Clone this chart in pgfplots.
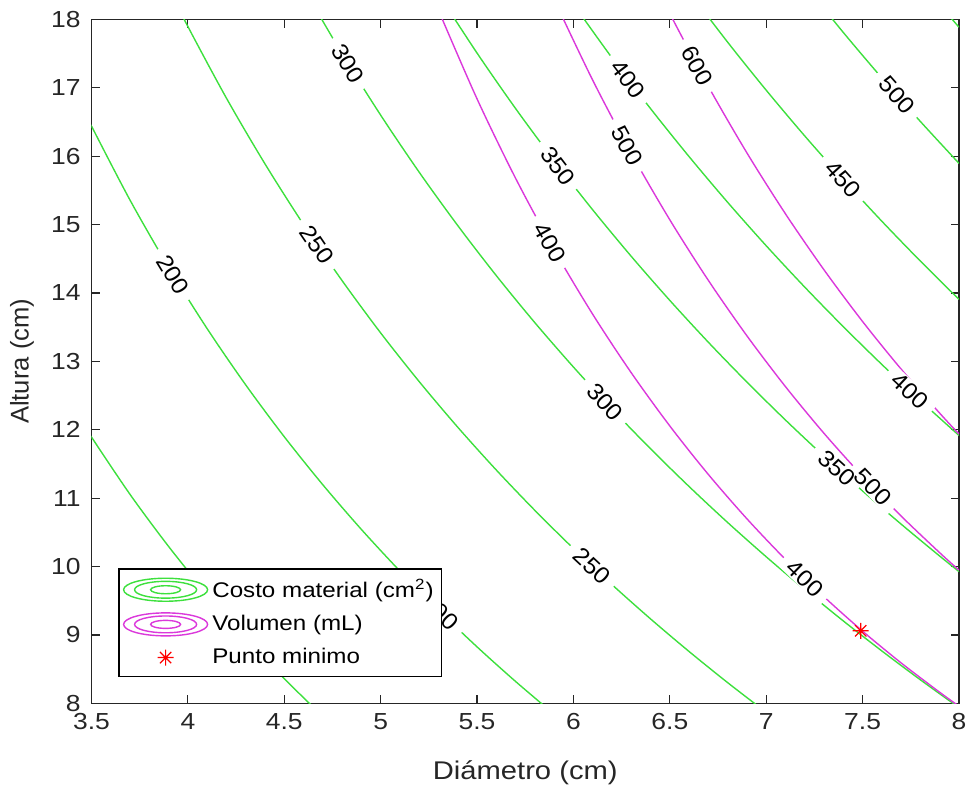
\documentclass[border=0pt]{standalone}
\usepackage{fontspec}
\setmainfont{Liberation Sans}[FakeStretch=1.14]
\newfontfamily\plainfont{Liberation Sans}
\newfontfamily\midfont{Liberation Sans}[FakeStretch=1.07]
\usepackage{pgfplots}
\pgfplotsset{compat=1.18}
\definecolor{cgrn}{rgb}{0.24,0.88,0.24}
\definecolor{cmag}{rgb}{0.86,0.22,0.86}
\definecolor{axgray}{rgb}{0.15,0.15,0.15}
\pgfdeclareplotmark{mstar}{%
 \pgfpathmoveto{\pgfqpoint{-\pgfplotmarksize}{0pt}}\pgfpathlineto{\pgfqpoint{\pgfplotmarksize}{0pt}}%
 \pgfpathmoveto{\pgfqpoint{0pt}{-\pgfplotmarksize}}\pgfpathlineto{\pgfqpoint{0pt}{\pgfplotmarksize}}%
 \pgfpathmoveto{\pgfqpoint{-0.707\pgfplotmarksize}{-0.707\pgfplotmarksize}}\pgfpathlineto{\pgfqpoint{0.707\pgfplotmarksize}{0.707\pgfplotmarksize}}%
 \pgfpathmoveto{\pgfqpoint{-0.707\pgfplotmarksize}{0.707\pgfplotmarksize}}\pgfpathlineto{\pgfqpoint{0.707\pgfplotmarksize}{-0.707\pgfplotmarksize}}%
 \pgfusepathqstroke}
\newcommand{\labfont}{\midfont\fontsize{11.6}{14}\selectfont}
\newcommand{\labbg}[4]{\node[fill=white, inner xsep=4.4pt, inner ysep=0.5pt, rotate=#3, font=\labfont] at (axis cs:#1,#2) {\phantom{#4}};}
\newcommand{\labtxt}[4]{\node[inner sep=0pt, rotate=#3, text=black, font=\labfont] at (axis cs:#1,#2) {#4};}
\newcommand{\alllabels}[1]{%
 #1{3.923}{14.266}{-58.7}{200}%
 #1{5.31}{9.34}{-44.5}{200}%
 #1{4.670}{14.705}{-55.8}{250}%
 #1{6.096}{10.006}{-43.1}{250}%
 #1{4.831}{17.351}{-58.45}{300}%
 #1{6.164}{12.410}{-46.9}{300}%
 #1{5.920}{15.859}{-52.5}{350}%
 #1{7.367}{11.439}{-42.2}{350}%
 #1{6.283}{17.123}{-52.9}{400}%
 #1{7.746}{12.564}{-42.9}{400}%
 #1{7.398}{15.663}{-47.9}{450}%
 #1{7.678}{16.890}{-48.6}{500}%
 #1{5.878}{14.741}{-60.7}{400}%
 #1{7.200}{9.824}{-44.1}{400}%
 #1{6.278}{16.154}{-61.3}{500}%
 #1{7.554}{11.157}{-46.3}{500}%
 #1{6.641}{17.32}{-61.6}{600}%
}
\begin{document}
\begin{tikzpicture}[font=\fontsize{11.6}{14}\selectfont]
\begin{axis}[
  scale only axis, width=433.75pt, height=342pt,
  xmin=3.5, xmax=8, ymin=8, ymax=18,
  xtick={3.5,4,4.5,5,5.5,6,6.5,7,7.5,8},
  ytick={8,9,10,11,12,13,14,15,16,17,18},
  tick align=inside, major tick length=4.2pt,
  axis line style={axgray, line width=0.6pt},
  every tick/.style={axgray, line width=0.6pt},
  tick label style={text=axgray},
  yticklabel style={xshift=-1.9pt},
  xticklabel style={yshift=-1.5pt},
  /pgf/number format/assume math mode=true,
  xlabel={Diámetro (cm)}, ylabel={Altura (cm)},
  xlabel style={at={(axis description cs:0.5,-0.1121)}, anchor=base, text=axgray,
    font=\fontsize{12.8}{15}\selectfont},
  ylabel style={at={(axis description cs:-0.0801,0.5)}, anchor=center, text=axgray,
    font=\plainfont\fontsize{12.8}{15}\selectfont},
  legend style={at={(0.0309,0.038)}, anchor=south west, draw=black, line width=0.6pt,
    fill=white, inner xsep=2pt, inner ysep=3pt, row sep=3.4pt, text=black,
    font=\fontsize{10.6}{12.4}\selectfont},
  legend cell align=left,
]
\coordinate (ll) at (rel axis cs:0,0);
\coordinate (ur) at (rel axis cs:1,1);
% Costo material (green)
\addplot[cgrn, line width=0.7pt, smooth, forget plot] coordinates {(3.45,12.114)(3.5,11.892)(3.7,11.054)(3.9,10.293)(4.1,9.595)(4.3,8.954)(4.5,8.360)(4.7,7.809)};
\addplot[cgrn, line width=0.7pt, smooth, forget plot] coordinates {(3.45,16.728)(3.5,16.439)(3.7,15.356)(3.9,14.374)(4.1,13.477)(4.3,12.655)(4.5,11.897)(4.7,11.195)(4.9,10.542)(5.1,9.933)(5.3,9.362)(5.5,8.825)(5.7,8.319)(5.9,7.840)};
\addplot[cgrn, line width=0.7pt, smooth, forget plot] coordinates {(3.9,18.454)(4.0,17.894)(4.2,16.847)(4.4,15.886)(4.6,14.999)(4.8,14.179)(5.0,13.415)(5.2,12.703)(5.4,12.036)(5.6,11.410)(5.8,10.820)(6.0,10.263)(6.2,9.735)(6.4,9.234)(6.6,8.757)(6.8,8.302)(7.0,7.868)};
\addplot[cgrn, line width=0.7pt, smooth, forget plot] coordinates {(4.6,18.459)(4.8,17.494)(5.0,16.599)(5.2,15.764)(5.4,14.984)(5.6,14.252)(5.8,13.564)(6.0,12.916)(6.2,12.302)(6.4,11.721)(6.6,11.169)(6.8,10.643)(7.0,10.142)(7.2,9.663)(7.4,9.204)(7.6,8.765)(7.8,8.343)(8.0,7.937)};
\addplot[cgrn, line width=0.7pt, smooth, forget plot] coordinates {(5.3,18.370)(5.5,17.506)(5.7,16.695)(5.9,15.933)(6.1,15.214)(6.3,14.534)(6.5,13.890)(6.7,13.278)(6.9,12.696)(7.1,12.141)(7.3,11.611)(7.5,11.104)(7.7,10.619)(7.9,10.152)(8.0,9.926)};
\addplot[cgrn, line width=0.7pt, smooth, forget plot] coordinates {(6.0,18.221)(6.2,17.436)(6.4,16.694)(6.6,15.992)(6.8,15.324)(7.0,14.689)(7.2,14.084)(7.4,13.506)(7.6,12.953)(7.8,12.424)(8.0,11.916)};
\addplot[cgrn, line width=0.7pt, smooth, forget plot] coordinates {(6.6,18.403)(6.8,17.665)(7.0,16.963)(7.2,16.294)(7.4,15.657)(7.6,15.047)(7.8,14.464)(8.0,13.905)};
\addplot[cgrn, line width=0.7pt, smooth, forget plot] coordinates {(7.2,18.505)(7.4,17.807)(7.6,17.142)(7.8,16.505)(8.0,15.894)};
\addplot[cgrn, line width=0.7pt, forget plot] coordinates {(7.9,18.211)(7.95,18.047)(8.0,17.884)};
% Volumen (magenta)
\addplot[cmag, line width=0.7pt, smooth, forget plot] coordinates {(5.3,18.131)(5.5,16.836)(5.7,15.675)(5.9,14.631)(6.1,13.687)(6.3,12.832)(6.5,12.054)(6.7,11.345)(6.9,10.697)(7.1,10.103)(7.3,9.557)(7.5,9.054)(7.7,8.590)(7.9,8.161)(8.0,7.958)};
\addplot[cmag, line width=0.7pt, smooth, forget plot] coordinates {(5.9,18.288)(6.1,17.109)(6.3,16.040)(6.5,15.068)(6.7,14.182)(6.9,13.372)(7.1,12.629)(7.3,11.946)(7.5,11.318)(7.7,10.737)(7.9,10.201)(8.0,9.947)};
\addplot[cmag, line width=0.7pt, smooth, forget plot] coordinates {(6.5,18.082)(6.7,17.018)(6.9,16.046)(7.1,15.155)(7.3,14.336)(7.5,13.581)(7.7,12.885)(7.9,12.241)(8.0,11.937)};
% contour labels
\alllabels\labbg
\alllabels\labtxt
% Punto minimo
\addplot[red, only marks, mark=mstar, mark size=4pt, line width=0.6pt, forget plot] coordinates {(7.49,9.06)};
\addlegendimage{legend image code/.code={\path[draw=none,fill=none] (0pt,-6pt) rectangle (42pt,6pt); \draw[cgrn,line width=0.7pt,fill=none] (21pt,0pt) ellipse [x radius=21pt, y radius=5.75pt] (21pt,0pt) ellipse [x radius=15.5pt, y radius=4.2pt] (21pt,0pt) ellipse [x radius=7.5pt, y radius=2pt];}}
\addlegendentry{Costo material (cm\textsuperscript{2})}
\addlegendimage{legend image code/.code={\path[draw=none,fill=none] (0pt,-6pt) rectangle (42pt,6pt); \draw[cmag,line width=0.7pt,fill=none] (21pt,0pt) ellipse [x radius=21pt, y radius=5.75pt] (21pt,0pt) ellipse [x radius=15.5pt, y radius=4.2pt] (21pt,0pt) ellipse [x radius=7.5pt, y radius=2pt];}}
\addlegendentry{Volumen (mL)}
\addlegendimage{legend image code/.code={\path[draw=none,fill=none] (0pt,-6pt) rectangle (42pt,6pt); \draw[red,line width=0.6pt] (17pt,0pt)--(25pt,0pt) (21pt,-4pt)--(21pt,4pt) (18.17pt,-2.83pt)--(23.83pt,2.83pt) (18.17pt,2.83pt)--(23.83pt,-2.83pt);}}
\addlegendentry{Punto minimo}
\end{axis}
\pgfresetboundingbox
\path[use as bounding box] ([shift={(-45.75pt,-42.85pt)}]ll) rectangle ([shift={(3.5pt,9.65pt)}]ur);
\end{tikzpicture}
\end{document}
